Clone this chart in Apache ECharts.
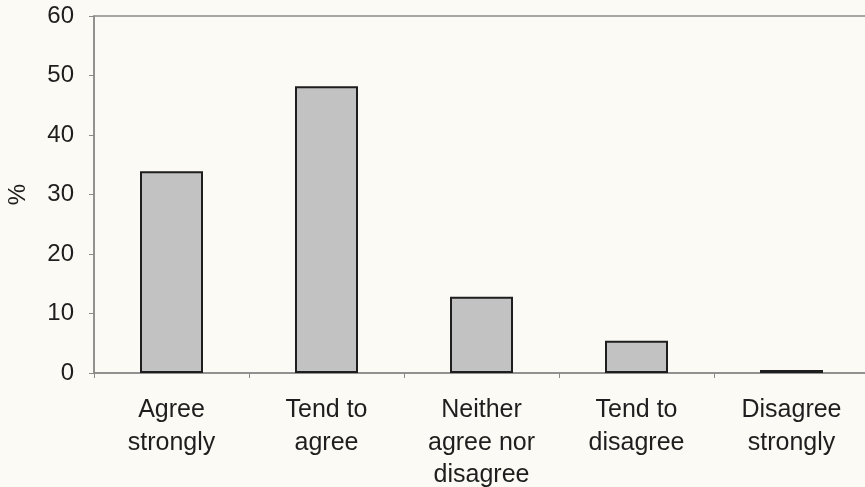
<!DOCTYPE html>
<html>
<head>
<meta charset="utf-8">
<script src="https://cdn.jsdelivr.net/npm/echarts@6/dist/echarts.min.js"></script>
<style>
html,body{margin:0;padding:0;background:#fcfaf4;}
#chart{width:865px;height:487px;}
</style>
</head>
<body>
<div id="chart"></div>
<script>
var categories = ["Agree\nstrongly", "Tend to\nagree", "Neither\nagree nor\ndisagree", "Tend to\ndisagree", "Disagree\nstrongly"];
var values = [33.9, 48.2, 12.8, 5.4, 0.5];
var yTicks = [0, 10, 20, 30, 40, 50, 60];

var chart = echarts.init(document.getElementById('chart'));
chart.setOption({
  backgroundColor: '#fcfaf4',
  animation: false,
  grid: {left: 94, top: 16, right: -4, bottom: 114, containLabel: false, outerBoundsMode: 'none',
         show: true, borderColor: '#8a8a8a', borderWidth: 1.5, backgroundColor: 'transparent'},
  xAxis: {
    type: 'category',
    data: categories,
    axisLine: {lineStyle: {color: '#8a8a8a', width: 1.5}},
    axisTick: {show: true, length: 5, lineStyle: {color: '#8a8a8a'}},
    axisLabel: {interval: 0, color: '#1e1e1e', fontFamily: 'Liberation Sans, Arial, sans-serif', fontSize: 25, lineHeight: 32.5, margin: 21}
  },
  yAxis: {
    type: 'value',
    min: yTicks[0], max: yTicks[yTicks.length - 1], interval: 10,
    name: '%', nameLocation: 'middle', nameRotate: 90, nameGap: 64,
    nameTextStyle: {color: '#1e1e1e', fontFamily: 'Liberation Sans, Arial, sans-serif', fontSize: 24},
    axisLine: {show: true, lineStyle: {color: '#8a8a8a', width: 1.5}},
    axisTick: {show: true, length: 5, lineStyle: {color: '#8a8a8a'}},
    splitLine: {show: false},
    axisLabel: {color: '#1e1e1e', fontFamily: 'Liberation Sans, Arial, sans-serif', fontSize: 24, margin: 20}
  },
  series: [{
    type: 'bar',
    data: values,
    barWidth: 63,
    itemStyle: {color: '#c2c2c2', borderColor: '#1e1e1e', borderWidth: 2}
  }]
});
</script>
</body>
</html>
